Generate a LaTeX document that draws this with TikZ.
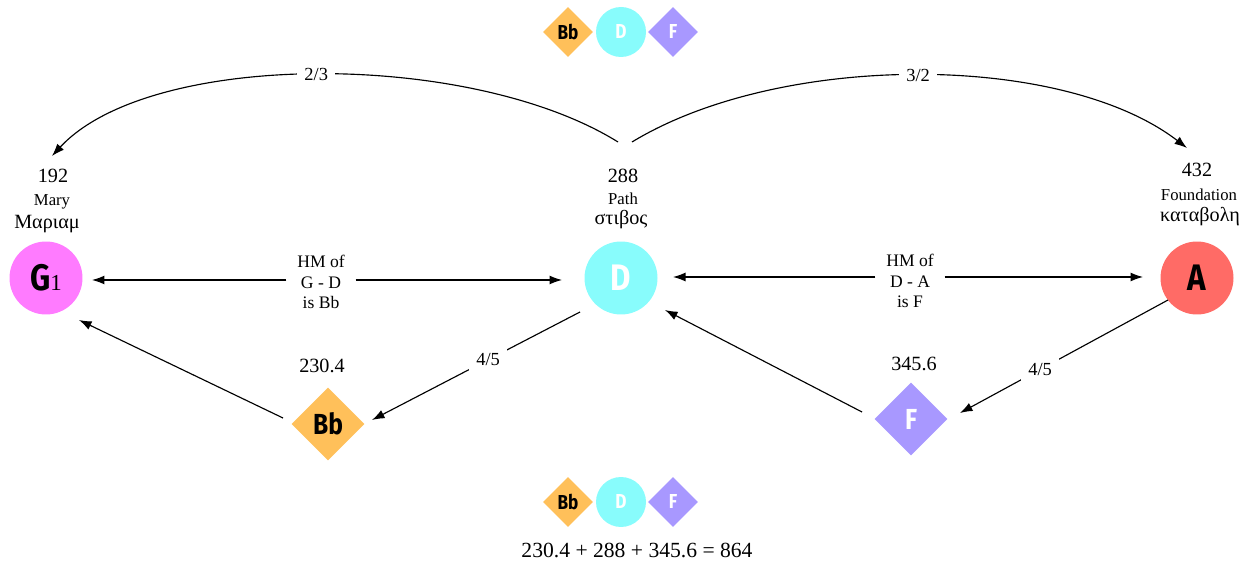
\documentclass[tikz,border=0pt]{standalone}
\usepackage{fontspec}
\setmainfont{Liberation Serif}
\newfontfamily\hand[FakeStretch=0.85]{Fira Sans}
\usetikzlibrary{shapes.geometric,arrows.meta,calc}
\definecolor{cG}{HTML}{FF7BFF}
\definecolor{cD}{HTML}{88FCFC}
\definecolor{cA}{HTML}{FF6B66}
\definecolor{cB}{HTML}{FFC05A}
\definecolor{cF}{HTML}{A898FF}
\tikzset{
  bigc/.style={circle,minimum size=1.46cm,inner sep=0pt},
  bigd/.style={diamond,minimum size=1.46cm,inner sep=0pt},
  smallc/.style={circle,minimum size=1.0cm,inner sep=0pt,font=\hand\bfseries\fontsize{11.5}{12}\selectfont},
  smalld/.style={diamond,minimum size=1.0cm,inner sep=0pt,font=\hand\bfseries\fontsize{11.5}{12}\selectfont},
  bigfont/.style={font=\hand\bfseries\fontsize{21}{22}\selectfont},
  midfont/.style={font=\hand\bfseries\fontsize{16.5}{17}\selectfont},
  numlbl/.style={font=\fontsize{11.5}{12}\selectfont,inner sep=0pt},
  enlbl/.style={font=\fontsize{9.5}{10}\selectfont,inner sep=0pt},
  grlbl/.style={font=\fontsize{11.5}{12}\selectfont,inner sep=0pt},
  edgelbl/.style={fill=white,font=\fontsize{10}{11.5}\selectfont,align=center,inner sep=6pt},
  ratio/.style={fill=white,font=\fontsize{10.5}{11}\selectfont,inner sep=4pt},
  arr/.style={-{Latex[length=0.25cm,width=0.18cm]},line width=0.65pt},
}
\begin{document}
\begin{tikzpicture}[x=0.02cm,y=-0.02cm]
\useasboundingbox (0,0) rectangle (1254,563);
% main nodes
\node[bigc,fill=cG,bigfont] (G1) at (46,278) {G{\normalfont\mdseries\fontsize{13}{13}\selectfont 1}};
\node[bigc,fill=cD,bigfont,text=white] (D) at (621,278) {D};
\node[bigc,fill=cA,bigfont] (A) at (1197,278) {A};
\node[bigd,fill=cB,midfont] (Bb) at (328,424) {Bb};
\node[bigd,fill=cF,midfont,text=white] (F) at (911,419) {F};
% legends
\node[smalld,fill=cB] (lb1) at (568,32) {Bb};
\node[smallc,fill=cD,text=white] (ld1) at (621,32) {D};
\node[smalld,fill=cF,text=white] (lf1) at (673,32) {F};
\node[smalld,fill=cB] (lb2) at (568,502) {Bb};
\node[smallc,fill=cD,text=white] (ld2) at (621,502) {D};
\node[smalld,fill=cF,text=white] (lf2) at (673,502) {F};
\node[font=\fontsize{12.3}{13}\selectfont] (eq) at (637,550) {230.4 + 288 + 345.6 = 864};
% labels
\node[numlbl] (n192) at (53,176) {192};
\node[enlbl] (mary) at (52,202) {Mary};
\node[grlbl] (gmary) at (47,224) {Μαριαμ};
\node[numlbl] (n288) at (623,176) {288};
\node[enlbl] (path) at (623,199) {Path};
\node[grlbl] (gpath) at (621,220) {στιβος};
\node[numlbl] (n432) at (1197,170) {432};
\node[enlbl] (found) at (1199,195) {Foundation};
\node[grlbl] (gfound) at (1200,217) {καταβολη};
\node[numlbl] (n2304) at (322,366) {230.4};
\node[numlbl] (n3456) at (914,364) {345.6};
% horizontal connectors
\node[edgelbl] (hmgd) at (321,282) {HM of\\G - D\\is Bb};
\draw[arr] (hmgd.west |- 0,280) -- ($(G1)+(46,2)$);
\draw[arr] (hmgd.east |- 0,280) -- ($(D)+(-59,2)$);
\node[edgelbl] (hmda) at (910,281) {HM of\\D - A\\is F};
\draw[arr] (hmda.west |- 0,277) -- ($(D)+(52,-1)$);
\draw[arr] (hmda.east |- 0,277) -- ($(A)+(-54,-1)$);
% diagonal connectors
\draw[arr] ($(Bb)+(-45,-6)$) -- ($(G1)+(33,42)$);
\draw[arr] ($(D)+(-41,34)$) -- ($(Bb)+(44,-4)$) node[ratio,pos=0.442] {4/5};
\draw[arr] ($(F)+(-49,-7)$) -- ($(D)+(44,32)$);
\draw[arr] ($(A)+(-29,22)$) -- ($(F)+(49,-6)$) node[ratio,pos=0.615] {4/5};
% arcs
\coordinate (dl) at (618,142);
\coordinate (dr) at (632,142);
\draw[arr] (dl) .. controls (470,50) and (150,50) .. ($(G1)+(6,-122)$) node[ratio,pos=0.5] {2/3};
\draw[arr] (dr) .. controls (780,52) and (1062,52) .. ($(A)+(-10,-130)$) node[ratio,pos=0.5] {3/2};
\end{tikzpicture}
\end{document}
